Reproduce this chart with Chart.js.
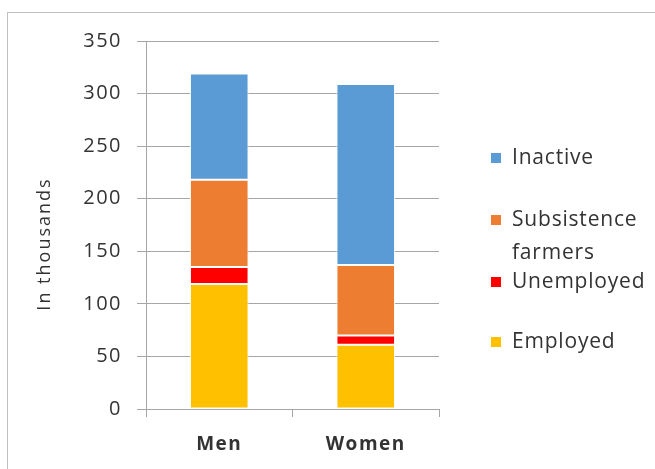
<!DOCTYPE html>
<html>
<head>
<meta charset="utf-8">
<script src="https://cdn.jsdelivr.net/npm/chart.js"></script>
<style>
  body { margin: 0; background: #fff; }
  .wrap { position: relative; width: 655px; height: 469px; overflow: hidden; }
  .frame { position: absolute; left: 7px; top: 12px; width: 700px; height: 500px; border: 1px solid #bfbfbf; }
  canvas { position: absolute; left: 0; top: 0; }
</style>
</head>
<body>
<div class="wrap">
  <div class="frame"></div>
  <canvas id="chart" width="655" height="469"></canvas>
</div>
<script>
// Data
const categories = ['Men', 'Women'];
const seriesNames = ['Employed', 'Unemployed', 'Subsistence farmers', 'Inactive'];
const seriesColors = ['#FFC000', '#FF0000', '#ED7D31', '#5B9BD5'];
const employed = [119, 61];
const unemployed = [16, 9];
const subsistence = [83, 67];
const inactive = [101, 172];
const yTicks = [0, 50, 100, 150, 200, 250, 300, 350];
const yTitle = 'In thousands';

const FONT = "'Open Sans', sans-serif";
const TEXT = '#333333';
const GRID = '#a6a6a6';

// Excel-like wide letter spacing
const spacingPlugin = {
  id: 'spacing',
  beforeDraw(chart) {
    chart.ctx.letterSpacing = '1.5px';
  }
};

// Y title + legend drawn by hand so the layout matches
const extrasPlugin = {
  id: 'extras',
  afterDraw(chart) {
    const ctx = chart.ctx;
    ctx.save();
    ctx.fillStyle = TEXT;

    // Axis title
    ctx.letterSpacing = '2px';
    ctx.font = '500 18px ' + FONT;
    ctx.textAlign = 'center';
    ctx.textBaseline = 'alphabetic';
    ctx.translate(50, 244);
    ctx.rotate(-Math.PI / 2);
    ctx.fillText(yTitle, 0, 0);
    ctx.setTransform(1, 0, 0, 1, 0, 0);

    // Legend, reversed order
    const rows = [158, 220, 282, 342];
    const lineGap = 33;
    ctx.letterSpacing = '0.8px';
    ctx.textAlign = 'left';
    ctx.textBaseline = 'middle';
    ctx.font = '500 21px ' + FONT;
    const items = chart.data.datasets.slice().reverse();
    items.forEach((ds, i) => {
      const y = rows[i];
      ctx.fillStyle = ds.backgroundColor;
      ctx.fillRect(491, y - 5, 10, 10);
      ctx.fillStyle = TEXT;
      // wrap long labels
      const words = ds.label.split(' ');
      const lines = [];
      let cur = '';
      words.forEach(w => {
        const test = cur ? cur + ' ' + w : w;
        if (cur && ctx.measureText(test).width > 138) {
          lines.push(cur);
          cur = w;
        } else {
          cur = test;
        }
      });
      lines.push(cur);
      lines.forEach((ln, j) => ctx.fillText(ln, 512, y + j * lineGap));
    });
    ctx.restore();
  }
};

const seriesData = [employed, unemployed, subsistence, inactive];

new Chart(document.getElementById('chart'), {
  type: 'bar',
  data: {
    labels: categories,
    datasets: seriesNames.map((name, i) => ({
      label: name,
      data: seriesData[i],
      backgroundColor: seriesColors[i],
      borderColor: '#ffffff',
      borderWidth: 1,
      borderSkipped: false,
      barPercentage: 0.4,
      categoryPercentage: 1
    }))
  },
  options: {
    responsive: false,
    animation: false,
    layout: { padding: { top: 41, right: 216, left: 0, bottom: 0 } },
    plugins: {
      legend: { display: false },
      tooltip: { enabled: false }
    },
    scales: {
      x: {
        stacked: true,
        grid: { drawOnChartArea: false, drawTicks: true, tickLength: 8, color: GRID },
        border: { color: GRID },
        ticks: { color: TEXT, padding: 16, font: { family: FONT, size: 19, weight: 'bold' } },
        afterFit: s => { s.height = 60; }
      },
      y: {
        stacked: true,
        min: 0,
        max: 350,
        afterBuildTicks: s => { s.ticks = yTicks.map(v => ({ value: v })); },
        grid: { color: GRID, tickLength: 9 },
        border: { color: GRID },
        ticks: { color: TEXT, padding: 15, font: { family: FONT, size: 20, weight: 500 } },
        afterFit: s => { s.width = 146; }
      }
    }
  },
  plugins: [spacingPlugin, extrasPlugin]
});
</script>
</body>
</html>
